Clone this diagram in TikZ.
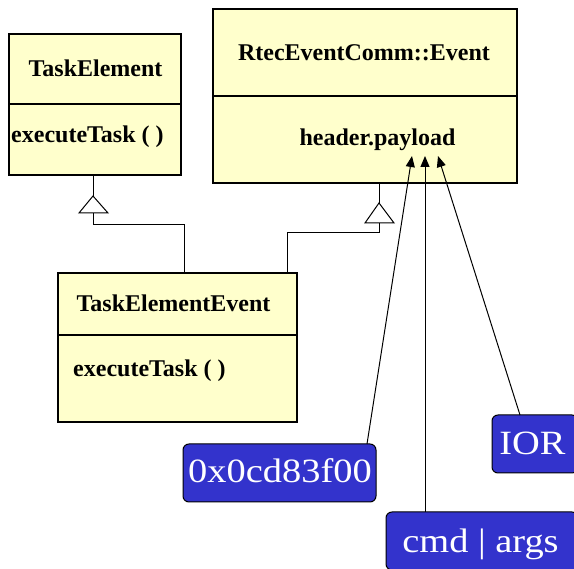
\documentclass[tikz,border=0pt]{standalone}
\usepackage{fontspec}
\setmainfont{Liberation Serif}
\usetikzlibrary{arrows.meta}
\definecolor{classfill}{RGB}{255,255,204}
\definecolor{tagblue}{RGB}{51,51,204}
\begin{document}
\begin{tikzpicture}[x=1pt,y=-1pt,
  comp/.style={draw=black, fill=classfill, line width=1.2pt, inner sep=0pt, outer sep=0pt, rectangle},
  divider/.style={draw=black, line width=2pt},
  ctext/.style={inner sep=0pt, anchor=base, font=\fontsize{24}{28}\selectfont\bfseries},
  gen/.style={draw=black, line width=1pt},
  genhead/.style={draw=black, line width=1pt, fill=white},
  tag/.style={draw=black, fill=tagblue, rounded corners=6pt, line width=1pt, inner sep=0pt, outer sep=0pt},
  tagtext/.style={inner sep=0pt, anchor=base, text=white, font=\fontsize{34}{38}\selectfont},
  ref/.style={draw=black, line width=1pt, -{Triangle[length=11pt,width=9pt]}}
]
\useasboundingbox (0,0) rectangle (574,569);

% TaskElement
\node[comp, minimum width=172pt, minimum height=70pt] (teTop) at (95,69) {};
\node[comp, minimum width=172pt, minimum height=71pt] (teBot) at (95,139.5) {};
\draw[divider] (teTop.south west) -- (teTop.south east);
\node[ctext] (teName) at (95.5,77) {TaskElement};
\node[ctext, anchor=base west] (teOp) at (11,143) {executeTask ( )};

% TaskElementEvent
\node[comp, minimum width=239pt, minimum height=62pt] (teeTop) at (177.5,304) {};
\node[comp, minimum width=239pt, minimum height=87pt] (teeBot) at (177.5,378.5) {};
\draw[divider] (teeTop.south west) -- (teeTop.south east);
\node[ctext] (teeName) at (173.5,312) {TaskElementEvent};
\node[ctext, anchor=base west] (teeOp) at (73,377) {executeTask ( )};

% RtecEventComm::Event
\node[comp, minimum width=304pt, minimum height=87pt] (evTop) at (365,52.5) {};
\node[comp, minimum width=304pt, minimum height=87pt] (evBot) at (365,139.5) {};
\draw[divider] (evTop.south west) -- (evTop.south east);
\node[ctext] (evName) at (364,61) {RtecEventComm::Event};
\node[ctext] (evAttr) at (377.5,146) {header.payload};

% generalization TaskElementEvent -> TaskElement
\coordinate (g1apex) at (93,196);
\coordinate (g1base) at (93,213);
\draw[gen] (teBot.south -| g1apex) -- (g1apex);
\draw[gen] (teeTop.north -| 184,0) |- (93,225) -- (g1base);
\draw[genhead] (g1apex) -- (79,213) -- (108,213) -- cycle;

% generalization TaskElementEvent -> Event
\coordinate (g2apex) at (379,203);
\coordinate (g2base) at (379,223);
\draw[gen] (evBot.south -| g2apex) -- (g2apex);
\draw[gen] (teeTop.north -| 287,0) |- (379,233) -- (g2base);
\draw[genhead] (g2apex) -- (365,223) -- (394,223) -- cycle;

% tags
\node[tag, minimum width=193pt, minimum height=58pt] (addr) at (279.5,473) {};
\node[tagtext] (addrText) at (280,483) {\scalebox{1.13}[1]{0x0cd83f00}};
\node[tag, minimum width=86pt, minimum height=58pt] (ior) at (535,444) {};
\node[tagtext] (iorText) at (532.5,455) {\scalebox{1.13}[1]{IOR}};
\node[tag, minimum width=192pt, minimum height=58pt] (cmd) at (482,541) {};
\node[tagtext] (cmdText) at (480.5,553) {\scalebox{1.13}[1]{cmd | args}};

% references into header.payload
\coordinate (tip1) at (412,156);
\coordinate (tip2) at (425,156);
\coordinate (tip3) at (438,156);
\draw[ref] (addr.north -| 367,0) -- (tip1);
\draw[ref] (cmd.north -| tip2) -- (tip2);
\draw[ref] (ior.north -| 520,0) -- (tip3);
\end{tikzpicture}
\end{document}
